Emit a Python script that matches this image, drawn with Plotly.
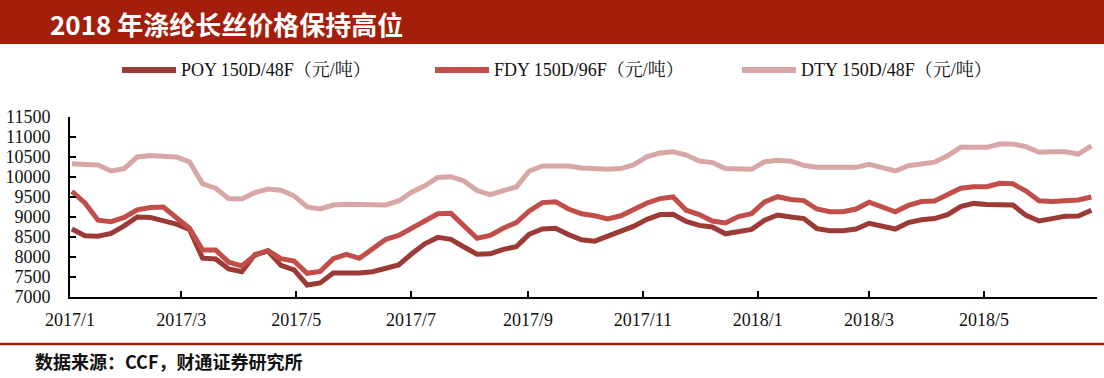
import pandas as pd
import plotly.graph_objects as go

# ---------------- data ----------------
dates = pd.date_range("2017-01-02", "2018-06-27", periods=79)

poy = [8700, 8530, 8520, 8590, 8780, 9000, 8990, 8910, 8820, 8690,
       7970, 7950, 7700, 7630, 8060, 8150, 7790, 7680, 7300, 7350,
       7600, 7600, 7600, 7633, 7720, 7800, 8080, 8330, 8490, 8440,
       8250, 8070, 8080, 8190, 8260, 8570, 8700, 8717, 8560, 8430,
       8395, 8520, 8660, 8770, 8940, 9060, 9070, 8890, 8790, 8750,
       8580, 8620, 8690, 8920, 9050, 9000, 8960, 8710, 8658, 8658,
       8700, 8842, 8760, 8700, 8860, 8930, 8960, 9060, 9260, 9340,
       9310, 9320, 9300, 9040, 8900, 8960, 9020, 9025, 9170]

fdy = [9640, 9350, 8920, 8883, 8990, 9180, 9235, 9250, 8980, 8720,
       8175, 8175, 7870, 7775, 8040, 8160, 7960, 7900, 7592, 7640,
       7960, 8065, 7967, 8200, 8440, 8540, 8710, 8900, 9080, 9092,
       8760, 8470, 8540, 8720, 8860, 9150, 9360, 9383, 9200, 9080,
       9030, 8950, 9030, 9190, 9350, 9460, 9500, 9170, 9060, 8900,
       8850, 9010, 9085, 9380, 9508, 9440, 9410, 9200, 9133, 9133,
       9200, 9370, 9260, 9130, 9290, 9385, 9400, 9575, 9720, 9758,
       9758, 9842, 9830, 9650, 9405, 9385, 9420, 9425, 9500]

dty = [10330, 10300, 10300, 10150, 10210, 10500, 10540, 10520, 10500, 10380,
       9830, 9720, 9460, 9450, 9610, 9700, 9670, 9530, 9250, 9200,
       9300, 9320, 9310, 9300, 9300, 9400, 9620, 9780, 9990, 10008,
       9900, 9660, 9560, 9660, 9750, 10150, 10275, 10275, 10275, 10225,
       10200, 10192, 10210, 10310, 10510, 10600, 10633, 10550, 10400, 10360,
       10210, 10192, 10192, 10383, 10420, 10395, 10290, 10242, 10242, 10242,
       10242, 10315, 10220, 10150, 10280, 10320, 10370, 10530, 10742, 10742,
       10742, 10825, 10825, 10760, 10620, 10633, 10633, 10575, 10780]

series_names = ["POY 150D/48F（元/吨）", "FDY 150D/96F（元/吨）", "DTY 150D/48F（元/吨）"]
series_colors = ["#9C3A36", "#C24E4A", "#D8A6A4"]

tick_dates = ["2017-01-01", "2017-03-01", "2017-05-01", "2017-07-01", "2017-09-01",
              "2017-11-01", "2018-01-01", "2018-03-01", "2018-05-01"]
tick_labels = ["2017/1", "2017/3", "2017/5", "2017/7", "2017/9",
               "2017/11", "2018/1", "2018/3", "2018/5"]
y_ticks = [7000, 7500, 8000, 8500, 9000, 9500, 10000, 10500, 11000, 11500]

title_text = "2018 年涤纶长丝价格保持高位"
source_text = "数据来源：CCF，财通证券研究所"

# ---------------- layout helpers ----------------
W, H = 1104, 378
L, R, T, B = 70, 7, 117, 81
PW, PH = W - L - R, H - T - B


def px(xp):
    return (xp - L) / PW


def py(yp):
    return (H - B - yp) / PH


serif = "Liberation Serif, 'Times New Roman', 'Noto Serif CJK SC', 'Noto Sans CJK SC', serif"
cjk = "'Noto Sans CJK SC', sans-serif"

fig = go.Figure()
for name, vals, col in zip(series_names, [poy, fdy, dty], series_colors):
    fig.add_trace(go.Scatter(x=dates, y=vals, name=name, mode="lines",
                             line=dict(color=col, width=5), showlegend=False))

fig.update_layout(
    width=W, height=H,
    margin=dict(l=L, r=R, t=T, b=B, autoexpand=False),
    paper_bgcolor="white", plot_bgcolor="white",
    showlegend=False,
    xaxis=dict(type="date", range=["2017-01-01", "2018-06-30"],
               tickvals=tick_dates, ticktext=tick_labels,
               showline=True, linecolor="black", linewidth=2,
               ticks="inside", ticklen=6, tickwidth=2, tickcolor="black",
               showgrid=False, zeroline=False, ticklabelstandoff=5,
               tickfont=dict(family=serif, size=18, color="#111")),
    yaxis=dict(range=[7000, 11500], tickvals=y_ticks, tickformat="d",
               showline=True, linecolor="black", linewidth=2,
               ticks="inside", ticklen=6, tickwidth=2, tickcolor="black",
               showgrid=False, zeroline=False, ticklabelstandoff=14,
               tickfont=dict(family=serif, size=18, color="#111")),
)

# title bar
fig.add_shape(type="rect", xref="paper", yref="paper",
              x0=px(0), x1=px(W), y0=py(44), y1=py(0),
              fillcolor="#A31F0C", line=dict(width=0), layer="below")
fig.add_annotation(xref="paper", yref="paper", x=px(48), y=py(23),
                   xanchor="left", yanchor="middle", showarrow=False,
                   text="<b>" + title_text + "</b>",
                   font=dict(family=cjk, size=26, color="white"))

# manual legend
leg_x = [120, 433, 740]
for name, col, lx in zip(series_names, series_colors, leg_x):
    fig.add_shape(type="line", xref="paper", yref="paper",
                  x0=px(lx + 2), x1=px(lx + 56), y0=py(70), y1=py(70),
                  line=dict(color=col, width=6))
    fig.add_annotation(xref="paper", yref="paper", x=px(lx + 59), y=py(70),
                       xanchor="left", yanchor="middle", showarrow=False,
                       text=name, font=dict(family=serif, size=18, color="#111"))

# bottom rule and source
fig.add_shape(type="line", xref="paper", yref="paper",
              x0=px(0), x1=px(W), y0=py(344), y1=py(344),
              line=dict(color="#A31F0C", width=2.5))
fig.add_annotation(xref="paper", yref="paper", x=px(33), y=py(361),
                   xanchor="left", yanchor="middle", showarrow=False,
                   text="<b>" + source_text + "</b>",
                   font=dict(family=cjk, size=18, color="#111"))

fig.write_html("out.html", config={"displayModeBar": False},
               post_script="document.body.style.margin='0';document.body.style.padding='0';")
